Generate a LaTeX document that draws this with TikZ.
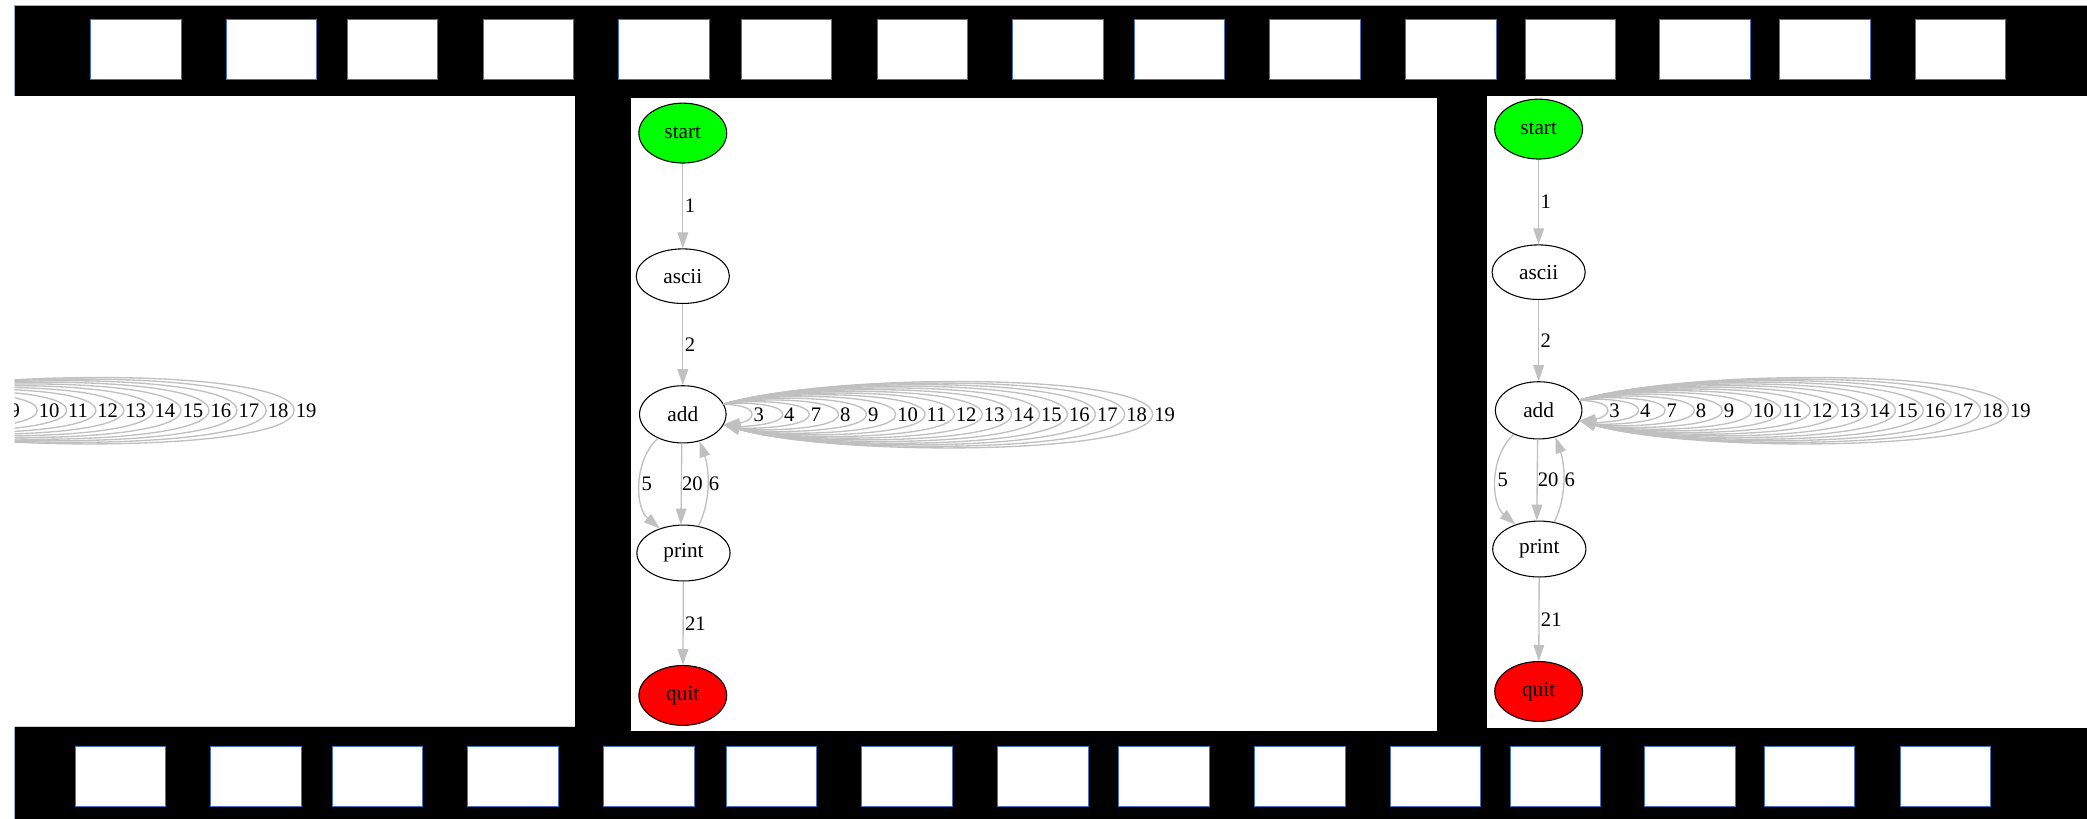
\documentclass[tikz,border=0pt]{standalone}
\usepackage{fontspec}
\setmainfont{Liberation Serif}
\usetikzlibrary{shapes.geometric,arrows.meta}

\definecolor{holeblue}{RGB}{68,114,196}
\definecolor{stripline}{RGB}{150,175,215}
\definecolor{edgegray}{RGB}{192,192,192}
\definecolor{startgreen}{RGB}{0,255,0}
\definecolor{quitred}{RGB}{255,0,0}

\tikzset{
  state/.style={ellipse,draw=black,line width=0.8pt,inner sep=0pt,font=\fontsize{16}{18}\selectfont},
  edge/.style={draw=edgegray,line width=1pt,-{Triangle[length=12pt,width=8pt]}},
  elabel/.style={inner sep=1pt,font=\fontsize{15.5}{18}\selectfont},
  hole/.style={draw=holeblue,fill=white,line width=0.7pt}
}

% Self loops on add: label/tip x/half height
\newcommand{\addloops}[2]{%
    \foreach \lab/\xr/\h in {3/565/5, 4/588/6.4, 7/608/7.8, 8/630/9.2, 9/651/10.6,
            10/673/12, 11/695/13.3, 12/717/14.6, 13/738/15.9, 14/760/17.2,
            15/781/18.5, 16/802/19.8, 17/823/21, 18/845/22.2, 19/866/23.4} {
        \draw[edge] (#1-add.14) .. controls +({0.25*(\xr-545)},{7-1.33*\h}) and +(0,{-1.33*\h}) .. (\xr,311.3)
            .. controls +(0,{1.33*\h}) and +({0.25*(\xr-545)},{1.33*\h-7}) .. (#1-add.-14);
        \ifnum\xr>#2
            \node[elabel,anchor=west] (#1-l\lab) at (\xr,311.3) {\lab};
        \fi
    }%
}

\begin{document}
\begin{tikzpicture}[x=1pt,y=-1pt]
    % Canvas
    \useasboundingbox[fill=white] (0,0) rectangle (1568,615);
    % Film strips
    \fill (11,3.8) rectangle (1572,72);
    \fill (11,546) rectangle (1572,618);
    \draw[stripline,line width=0.7pt] (1572,3.8) -- (11,3.8) -- (11,72);
    \draw[stripline,line width=0.7pt] (11,546) -- (11,618);
    % Sprocket holes
    \foreach \x in {68,170,261,363,465,557,659,761,852,954,1056,1146,1247,1337,1439} {
        \draw[hole] (\x,15) rectangle +(68,45);
        \draw[hole] (\x-11.5,560.5) rectangle +(68,45.5);
    }
    % Frames
    \fill (432,72) rectangle (1117,547);
    \fill[white] (474,74) rectangle (1080,549);
    \fill[white] (1117,74) rectangle (1568,547);
    \draw[gray!35,line width=0.6pt] (11,546) -- (432,546);

    % Left frame: only the tail of the loops
    \begin{scope}
        \clip (11,72) rectangle (432,547);
        \begin{scope}[shift={(-645,-3)}]
            \node[state,draw=none,minimum width=65pt,minimum height=43pt] (l-add) at (513,311.3) {};
            \addloops{l}{640}
        \end{scope}
    \end{scope}

    % Flow graph in the middle and right frames
    \foreach \px/\dx/\dy in {m/0/0, r/643/-3} {
    \begin{scope}[shift={(\dx,\dy)}]
        \node[state,fill=startgreen,minimum width=66pt,minimum height=45pt] (\px-start) at (513,100) {start};
        \node[state,minimum width=70pt,minimum height=41pt] (\px-ascii) at (513,207.5) {ascii};
        \node[state,minimum width=65pt,minimum height=43pt] (\px-add) at (513,311.3) {add};
        \node[state,minimum width=70pt,minimum height=42pt] (\px-print) at (513.5,415.5) {print};
        \node[state,fill=quitred,minimum width=66pt,minimum height=45pt] (\px-quit) at (513,522.5) {quit};
        % Straight edges
        \draw[edge] (\px-start) -- (\px-ascii) node[midway,elabel,anchor=west] (\px-l1) {1};
        \draw[edge] (\px-ascii) -- (\px-add) node[midway,elabel,anchor=west] (\px-l2) {2};
        \draw[edge] (\px-print) -- (\px-quit) node[midway,elabel,anchor=west] (\px-l21) {21};
        % Between add and print
        \draw[edge] (\px-add.224) .. controls +(-18,16) and +(-19,-16) .. (\px-print.134)
            node[midway,elabel,anchor=west,inner sep=0.5pt] (\px-l5) {5};
        \draw[edge] (\px-add.268) -- (\px-print.95)
            node[midway,elabel,anchor=west,inner sep=0pt] (\px-l20) {20};
        \draw[edge] (\px-print.61) .. controls +(10,-20) and +(7,20) .. (\px-add.-58)
            node[midway,elabel,anchor=west,inner sep=0.5pt] (\px-l6) {6};
        \addloops{\px}{0}
    \end{scope}
    }
\end{tikzpicture}
\end{document}
